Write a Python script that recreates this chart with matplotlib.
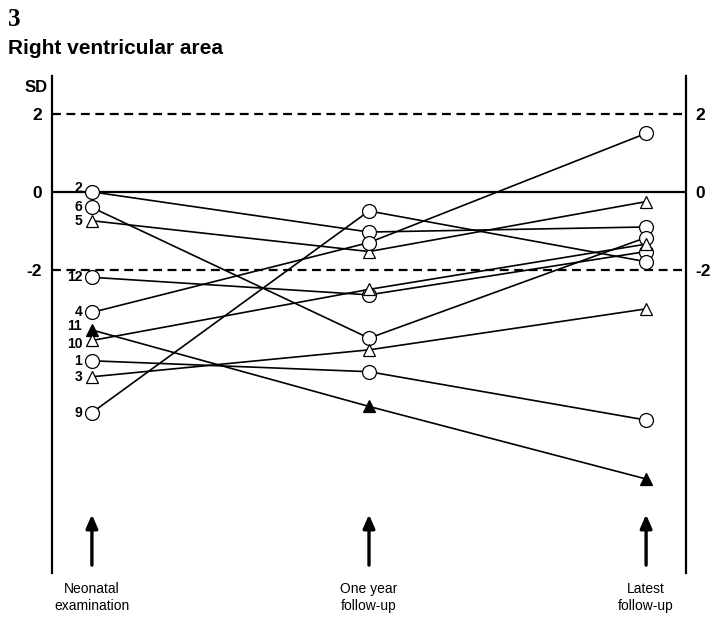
import numpy as np
import matplotlib
matplotlib.use("Agg")
import matplotlib.pyplot as plt

# patient numbers, in the order they are listed at the neonatal column
patients = ["2", "6", "5", "12", "4", "11", "10", "1", "3", "9"]
# marker type: o = open circle, t = open triangle, T = filled triangle
kinds = ["o", "o", "t", "o", "o", "T", "t", "o", "t", "o"]

# SD values at each examination
neonatal = [0.0, -0.40, -0.74, -2.19, -3.09, -3.54, -3.81, -4.33, -4.74, -5.66]
one_year = [-1.03, -3.75, -1.53, -2.64, -1.30, -5.50, -2.50, -4.61, -4.05, -0.49]
latest = [-0.90, -1.17, -0.25, -1.53, 1.50, -7.36, -1.34, -5.85, -3.00, -1.79]

stages = ["Neonatal\nexamination", "One year\nfollow-up", "Latest\nfollow-up"]
yticks = [2, 0, -2]

plt.rcParams['font.family'] = ['Liberation Sans', 'DejaVu Sans']

fig = plt.figure(figsize=(7.13, 6.17), dpi=100)
ax = fig.add_axes([52/713, 1-573/617, 634/713, 497/617])
ax.set_xlim(-0.144, 2.144)
ax.set_ylim(-9.77, 2.97)

xs = np.arange(len(stages))

# reference lines
ax.axhline(0, color="black", lw=1.6, zorder=1)
for v in (2, -2):
    ax.axhline(v, color="black", lw=1.6, ls=(0, (4, 2.5)), zorder=1)

styles = {
    "o": dict(marker="o", mfc="white", ms=10),
    "t": dict(marker="^", mfc="white", ms=9),
    "T": dict(marker="^", mfc="black", ms=9),
}
# small vertical nudges (points) so crowded labels don't collide
nudge = {"2": 3, "11": 2.5, "10": -2.5}

for i, p in enumerate(patients):
    ys = [neonatal[i], one_year[i], latest[i]]
    ax.plot(xs, ys, color="black", lw=1.2, zorder=2)
    ax.plot(xs, ys, ls="none", mec="black", mew=0.9, zorder=3, **styles[kinds[i]])
    ax.annotate(p, (0, neonatal[i]), xytext=(-7, nudge.get(p, 0)),
                textcoords="offset points", ha="right", va="center",
                fontsize=10, fontweight="bold")

# arrows under each examination
for x in xs:
    ax.annotate("", xy=(x, -8.2), xytext=(x, -9.64),
                arrowprops=dict(arrowstyle="-|>,head_width=0.35,head_length=0.8",
                                lw=2.4, color="black"))
    ax.text(x, -10.0, stages[x], ha="center", va="top", fontsize=10,
            linespacing=1.3, clip_on=False)

for s in ("top", "bottom"):
    ax.spines[s].set_visible(False)
ax.spines["left"].set_linewidth(1.6)
ax.spines["right"].set_linewidth(1.6)

ax.set_xticks([])
ax.set_yticks(yticks)
ax.set_yticklabels([str(t) for t in yticks], fontsize=12.5, fontweight="bold")
ax.tick_params(axis="y", length=0, pad=7, labelright=True, right=False)

fig.text(25/713, 1-87/617, "SD", ha="left", va="center", fontsize=12, fontweight="bold")
fig.text(8/713, 1-19/617, "3", ha="left", va="center", fontsize=18, fontweight="bold",
         family="Liberation Serif")
fig.text(8/713, 1-49/617, "Right ventricular area", ha="left", va="center", fontsize=15,
         fontweight="bold")

fig.savefig("out.png", dpi=100)
